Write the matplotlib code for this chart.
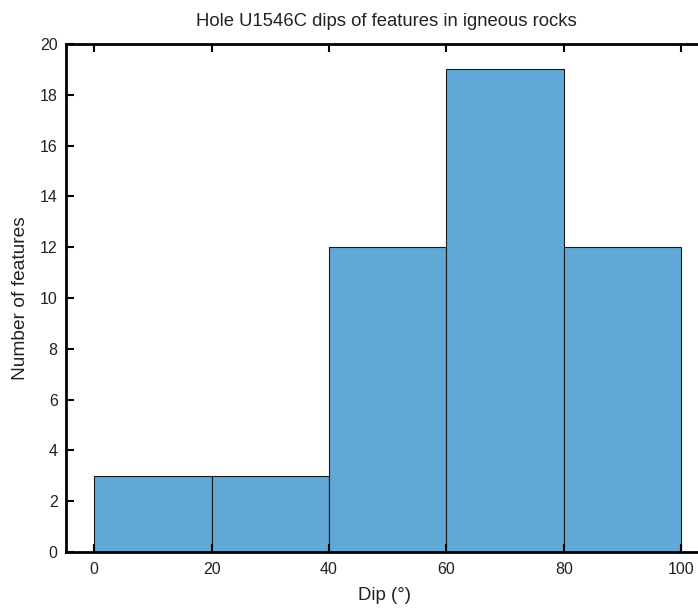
import matplotlib
matplotlib.use("Agg")
import matplotlib.pyplot as plt

plt.rcParams['font.family'] = ['Liberation Sans', 'DejaVu Sans']

bin_edges = [0, 20, 40, 60, 80, 100]
counts = [3, 3, 12, 19, 12]
xticks = [0, 20, 40, 60, 80, 100]
yticks = list(range(0, 21, 2))

W, H = 698, 608
fig = plt.figure(figsize=(W / 100, H / 100), dpi=100)

x_lo, x_hi = -4.8, 105.0
px_per_unit = (681 - 94) / 100.0
left_px = 66
right_px = left_px + (x_hi - x_lo) * px_per_unit
ax = fig.add_axes([left_px / W, (H - 552) / H, (right_px - left_px) / W, (552 - 44) / H])

lefts = bin_edges[:-1]
widths = [b - a for a, b in zip(bin_edges[:-1], bin_edges[1:])]
ax.bar(lefts, counts, width=widths, align='edge', color='#62a8d6',
       edgecolor='#1a1a1a', linewidth=0.8)

txt = '#222222'
ax.set_xlim(x_lo, x_hi)
ax.set_ylim(0, 20)
ax.set_xticks(xticks)
ax.set_yticks(yticks)
ax.tick_params(direction='in', length=6, width=1.5, top=True, right=True,
               labelsize=11.5, labelcolor=txt, color='black')
ax.tick_params(axis='x', pad=7)
ax.tick_params(axis='y', pad=6)
for s in ax.spines.values():
    s.set_linewidth(2)

fig.text(384 / W, 1 - 595 / H, 'Dip (°)', ha='center', va='center',
         fontsize=13.4, color=txt)
fig.text(20.5 / W, 1 - 298 / H, 'Number of features', ha='center', va='center',
         rotation=90, fontsize=13.8, color=txt)
fig.text(386 / W, 1 - 21 / H, 'Hole U1546C dips of features in igneous rocks',
         ha='center', va='center', fontsize=13.3, color=txt)

fig.savefig('out.png', dpi=100)
